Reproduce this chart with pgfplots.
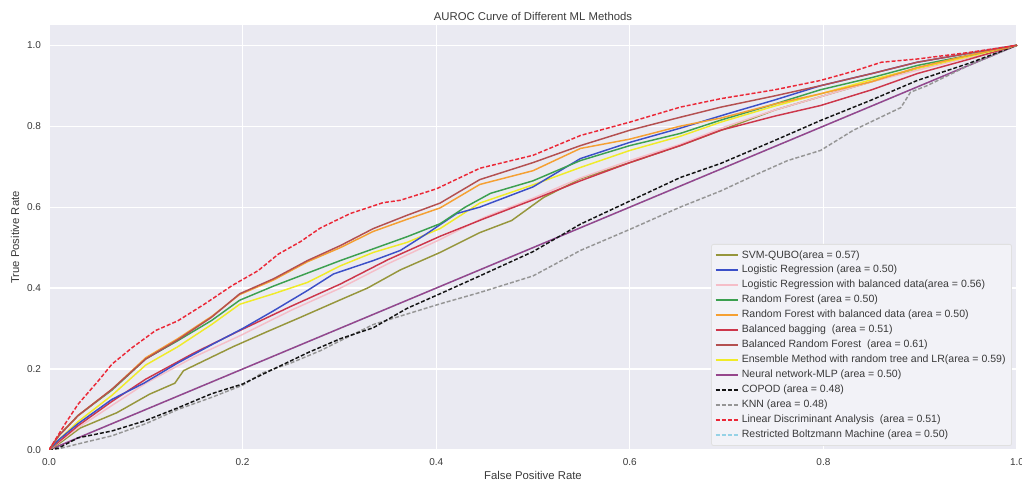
\documentclass[border=0pt]{standalone}
\usepackage{fontspec}
\setmainfont{Liberation Sans}
\usepackage{pgfplots}
\pgfplotsset{compat=1.18}

\definecolor{bgdark}{HTML}{EAEAF2}
\definecolor{txt}{HTML}{3A3A3A}
\definecolor{cSVM}{RGB}{150,150,60}
\definecolor{cLR}{RGB}{60,80,200}
\definecolor{cLRB}{RGB}{245,190,200}
\definecolor{cRF}{RGB}{60,160,80}
\definecolor{cRFB}{RGB}{245,160,50}
\definecolor{cBB}{RGB}{205,55,75}
\definecolor{cBRF}{RGB}{180,80,80}
\definecolor{cENS}{RGB}{240,235,40}
\definecolor{cMLP}{RGB}{150,70,140}
\definecolor{cCOP}{RGB}{20,20,20}
\definecolor{cKNN}{RGB}{150,150,150}
\definecolor{cLDA}{RGB}{235,40,55}
\definecolor{cRBM}{RGB}{150,210,230}

\tikzset{
  rocline/.style={line width=1.1pt, solid},
  rocdash/.style={line width=1.1pt, dash pattern=on 3pt off 1.5pt},
}

\begin{document}
\begin{tikzpicture}
% page = 1022 x 484 px at 0.75pt per px, axis box at px 49..1017 / 25..450
\useasboundingbox (-36.75pt,-25.5pt) rectangle (729.75pt,337.5pt);
\begin{axis}[
  at={(0,0)}, anchor=south west,
  scale only axis, width=726pt, height=318.75pt,
  xmin=0, xmax=1, ymin=0, ymax=1.05,
  axis background/.style={fill=bgdark},
  axis line style={draw=none},
  major tick length=0pt,
  grid=major, grid style={white, line width=0.9pt},
  xtick={0,0.2,0.4,0.6,0.8,1.0},
  ytick={0,0.2,0.4,0.6,0.8,1.0},
  /pgf/number format/assume math mode=true,
  /pgf/number format/.cd, fixed, fixed zerofill, precision=1, /pgfplots/.cd,
  tick label style={font=\fontsize{7.5}{9}\selectfont, text=txt},
  xticklabel style={yshift=-3pt},
  yticklabel style={xshift=-2.5pt},
  xlabel={False Positive Rate}, ylabel={True Positive Rate},
  label style={font=\fontsize{8.5}{10}\selectfont, text=txt},
  xlabel style={yshift=3pt},
  ylabel style={yshift=-1pt},
  title={AUROC Curve of Different ML Methods},
  title style={font=\fontsize{8.5}{10}\selectfont, text=txt, yshift=-6pt},
  legend cell align=left,
  legend style={at={(0.9948,0.0094)}, anchor=south east,
    fill=bgdark!60!white, draw=black!12, line width=0.6pt,
    font=\fontsize{7.9}{9.5}\selectfont, text=txt, row sep=0pt,
    inner sep=2.5pt, rounded corners=1.5pt},
  clip=true,
]
% Neural network-MLP and RBM sit on the diagonal
\addplot[cRBM, rocdash, forget plot] coordinates {(0,0) (1,1)};
\addplot[cMLP, rocline, forget plot] coordinates {(0,0) (1,1)};
% KNN
\addplot[cKNN, rocdash, forget plot] coordinates {
(0,0) (0.01,0.003) (0.03,0.015) (0.065,0.035) (0.1,0.065) (0.133,0.1)
(0.168,0.13) (0.2,0.16) (0.22,0.19) (0.25,0.215) (0.28,0.245) (0.301,0.27)
(0.335,0.31) (0.37,0.336) (0.404,0.361) (0.445,0.389) (0.5,0.43) (0.549,0.493)
(0.6,0.545) (0.652,0.6) (0.694,0.64) (0.73,0.68) (0.763,0.715) (0.797,0.74)
(0.831,0.79) (0.88,0.846) (0.89,0.884) (0.907,0.9) (0.95,0.95) (1,1)};
% COPOD
\addplot[cCOP, rocdash, forget plot] coordinates {
(0,0) (0.01,0.005) (0.03,0.03) (0.065,0.047) (0.099,0.072) (0.133,0.104)
(0.168,0.139) (0.2,0.163) (0.232,0.2) (0.267,0.24) (0.301,0.275) (0.335,0.302)
(0.37,0.35) (0.404,0.386) (0.445,0.43) (0.5,0.49) (0.549,0.558) (0.6,0.615)
(0.652,0.673) (0.694,0.708) (0.75,0.765) (0.797,0.814) (0.85,0.865)
(0.897,0.913) (0.95,0.955) (1,1)};
% SVM-QUBO
\addplot[cSVM, rocline, forget plot] coordinates {
(0,0) (0.01,0.015) (0.032,0.054) (0.07,0.092) (0.104,0.138) (0.13,0.165)
(0.139,0.196) (0.19,0.255) (0.225,0.292) (0.26,0.328) (0.3,0.37) (0.329,0.4)
(0.363,0.445) (0.404,0.488) (0.445,0.537) (0.478,0.567) (0.511,0.624)
(0.549,0.67) (0.6,0.71) (0.652,0.752) (0.7,0.795) (0.75,0.84) (0.8,0.875)
(0.85,0.91) (0.9,0.945) (0.95,0.97) (1,1)};
% Logistic Regression with balanced data
\addplot[cLRB, rocline, forget plot] coordinates {
(0,0) (0.03,0.055) (0.065,0.11) (0.1,0.165) (0.15,0.23) (0.197,0.282)
(0.25,0.345) (0.301,0.4) (0.35,0.46) (0.404,0.52) (0.45,0.575) (0.5,0.622)
(0.549,0.672) (0.6,0.715) (0.652,0.755) (0.7,0.8) (0.75,0.84) (0.8,0.875)
(0.85,0.91) (0.9,0.94) (0.95,0.97) (1,1)};
% Balanced bagging
\addplot[cBB, rocline, forget plot] coordinates {
(0,0) (0.03,0.06) (0.065,0.12) (0.1,0.175) (0.15,0.24) (0.197,0.295)
(0.25,0.355) (0.301,0.41) (0.35,0.47) (0.404,0.528) (0.45,0.572) (0.5,0.618)
(0.549,0.665) (0.6,0.71) (0.652,0.752) (0.694,0.79) (0.75,0.825) (0.797,0.851)
(0.85,0.89) (0.897,0.93) (0.95,0.965) (1,1)};
% Ensemble
\addplot[cENS, rocline, forget plot] coordinates {
(0,0) (0.01,0.025) (0.03,0.07) (0.065,0.135) (0.1,0.21) (0.133,0.255)
(0.168,0.31) (0.197,0.36) (0.232,0.386) (0.267,0.414) (0.301,0.455)
(0.335,0.488) (0.37,0.513) (0.404,0.547) (0.445,0.61) (0.5,0.655)
(0.549,0.698) (0.6,0.74) (0.652,0.775) (0.694,0.81) (0.75,0.85) (0.797,0.88)
(0.85,0.915) (0.897,0.943) (0.95,0.972) (1,1)};
% Logistic Regression
\addplot[cLR, rocline, forget plot] coordinates {
(0,0) (0.01,0.025) (0.03,0.065) (0.065,0.125) (0.098,0.165) (0.133,0.215)
(0.168,0.26) (0.2,0.3) (0.232,0.344) (0.267,0.394) (0.294,0.435) (0.335,0.468)
(0.363,0.493) (0.39,0.534) (0.421,0.584) (0.445,0.6) (0.5,0.65) (0.549,0.72)
(0.6,0.76) (0.652,0.795) (0.7,0.83) (0.75,0.865) (0.797,0.9) (0.85,0.93)
(0.897,0.958) (0.95,0.98) (1,1)};
% Random Forest
\addplot[cRF, rocline, forget plot] coordinates {
(0,0) (0.01,0.035) (0.03,0.085) (0.065,0.148) (0.1,0.225) (0.133,0.27)
(0.168,0.32) (0.197,0.37) (0.232,0.405) (0.267,0.437) (0.301,0.468)
(0.335,0.497) (0.37,0.527) (0.404,0.559) (0.43,0.6) (0.456,0.634) (0.5,0.665)
(0.549,0.715) (0.6,0.752) (0.652,0.782) (0.694,0.815) (0.75,0.855)
(0.797,0.89) (0.85,0.92) (0.897,0.95) (0.95,0.975) (1,1)};
% Random Forest with balanced data
\addplot[cRFB, rocline, forget plot] coordinates {
(0,0) (0.01,0.035) (0.03,0.085) (0.065,0.15) (0.1,0.228) (0.133,0.275)
(0.168,0.33) (0.197,0.384) (0.232,0.42) (0.267,0.465) (0.301,0.5) (0.335,0.54)
(0.37,0.57) (0.404,0.598) (0.445,0.656) (0.5,0.69) (0.549,0.745) (0.6,0.768)
(0.652,0.8) (0.694,0.82) (0.75,0.855) (0.797,0.88) (0.85,0.91) (0.897,0.945)
(0.95,0.975) (1,1)};
% Balanced Random Forest
\addplot[cBRF, rocline, forget plot] coordinates {
(0,0) (0.01,0.035) (0.03,0.085) (0.065,0.15) (0.1,0.225) (0.133,0.272)
(0.168,0.328) (0.197,0.386) (0.232,0.423) (0.267,0.468) (0.301,0.505)
(0.335,0.547) (0.37,0.58) (0.404,0.61) (0.445,0.668) (0.5,0.71) (0.549,0.752)
(0.6,0.79) (0.652,0.822) (0.694,0.847) (0.75,0.875) (0.797,0.9) (0.85,0.93)
(0.897,0.958) (0.95,0.98) (1,1)};
% Linear Discriminant Analysis
\addplot[cLDA, rocdash, forget plot] coordinates {
(0,0) (0.0165,0.064) (0.03,0.113) (0.051,0.171) (0.065,0.212) (0.086,0.253)
(0.11,0.295) (0.133,0.319) (0.161,0.361) (0.189,0.406) (0.216,0.443)
(0.237,0.484) (0.26,0.515) (0.28,0.548) (0.311,0.584) (0.345,0.611)
(0.363,0.617) (0.4,0.645) (0.445,0.696) (0.5,0.728) (0.549,0.777) (0.6,0.81)
(0.652,0.847) (0.694,0.868) (0.75,0.89) (0.797,0.913) (0.83,0.935)
(0.86,0.958) (0.897,0.966) (0.95,0.982) (1,1)};
% legend, in the order of the original
\addlegendimage{color=cSVM, rocline}\addlegendentry{SVM-QUBO(area = 0.57)}
\addlegendimage{color=cLR, rocline}\addlegendentry{Logistic Regression (area = 0.50)}
\addlegendimage{color=cLRB, rocline}\addlegendentry{Logistic Regression with balanced data(area = 0.56)}
\addlegendimage{color=cRF, rocline}\addlegendentry{Random Forest (area = 0.50)}
\addlegendimage{color=cRFB, rocline}\addlegendentry{Random Forest with balanced data (area = 0.50)}
\addlegendimage{color=cBB, rocline}\addlegendentry{Balanced bagging\ \ (area = 0.51)}
\addlegendimage{color=cBRF, rocline}\addlegendentry{Balanced Random Forest\ \ (area = 0.61)}
\addlegendimage{color=cENS, rocline}\addlegendentry{Ensemble Method with random tree and LR(area = 0.59)}
\addlegendimage{color=cMLP, rocline}\addlegendentry{Neural network-MLP (area = 0.50)}
\addlegendimage{color=cCOP, rocdash}\addlegendentry{COPOD (area = 0.48)}
\addlegendimage{color=cKNN, rocdash}\addlegendentry{KNN (area = 0.48)}
\addlegendimage{color=cLDA, rocdash}\addlegendentry{Linear Discriminant Analysis\ \ (area = 0.51)}
\addlegendimage{color=cRBM, rocdash}\addlegendentry{Restricted Boltzmann Machine (area = 0.50)}
\end{axis}
\end{tikzpicture}
\end{document}
